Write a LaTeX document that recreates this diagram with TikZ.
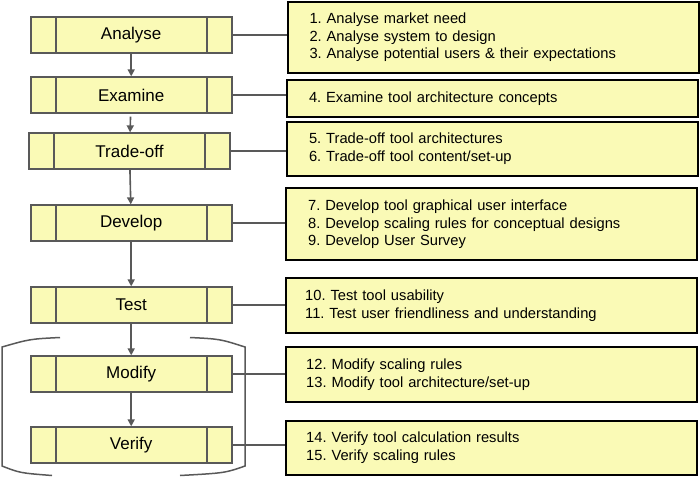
\documentclass[tikz,border=0pt]{standalone}
\usepackage{fontspec}
\setmainfont{Liberation Sans}
\usetikzlibrary{arrows.meta}
\definecolor{boxyellow}{RGB}{250,250,182}
\definecolor{linegray}{RGB}{89,89,89}
\frenchspacing
\begin{document}
\begin{tikzpicture}[x=1pt,y=-1pt]
\useasboundingbox (0,0) rectangle (700,476);
\begin{scope}[every node/.style={draw=linegray,line width=1.8pt,fill=boxyellow,
              minimum width=201pt,minimum height=35.5pt,inner sep=0pt,
              font=\fontsize{17}{20}\selectfont,
              path picture={\draw[linegray,line width=1.8pt]
                ([xshift=25pt]path picture bounding box.north west) -- ([xshift=25pt]path picture bounding box.south west)
                ([xshift=-25pt]path picture bounding box.north east) -- ([xshift=-25pt]path picture bounding box.south east);}}]
    \node (ana) at (131.2,35) {Analyse};
    \node (exa) at (131.2,95) {Examine};
    \node (tra) at (129.5,151) {Trade-off};
    \node (dev) at (131.2,223) {Develop};
    \node (tst) at (131.2,305) {Test};
    \node (mod) at (131.2,374) {Modify};
    \node (ver) at (131.2,445) {Verify};
\end{scope}

\begin{scope}[every node/.style={draw=black,line width=2pt,fill=boxyellow,
              text width=367pt,inner xsep=22pt,inner ysep=0pt,align=left,
              font=\fontsize{14.7}{17.6}\selectfont}]
    \node[minimum height=71pt] (anaList) at (493,37.5) {1. Analyse market need\\2. Analyse system to design\\3. Analyse potential users \& their expectations};
    \node[minimum height=36.7pt] (exaList) at (492.5,98.3) {4. Examine tool architecture concepts};
    \node[minimum height=54.3pt] (traList) at (492.5,148.8) {5. Trade-off tool architectures\\6. Trade-off tool content/set-up};
    \node[minimum height=71.7pt] (devList) at (491.7,224.2) {7. Develop tool graphical user interface\\8. Develop scaling rules for conceptual designs\\9. Develop User Survey};
    \node[minimum height=55pt,inner xsep=19pt,text width=373pt] (tstList) at (491.7,305.8) {10. Test tool usability\\11. Test user friendliness and understanding};
    \node[minimum height=54.4pt,inner xsep=20pt,text width=371pt] (modList) at (491.7,374.5) {12. Modify scaling rules\\13. Modify tool architecture/set-up};
    \node[minimum height=54.3pt,inner xsep=20pt,text width=371pt] (verList) at (491.7,447.8) {14. Verify tool calculation results\\15. Verify scaling rules};
\end{scope}

\begin{scope}[every edge/.style={draw=linegray,line width=1.6pt}]
    \path [-{Triangle[length=7pt,width=7pt]}] (ana) edge (exa);
    \path [-{Triangle[length=7pt,width=7pt]}] (exa) edge[shorten <=3pt] (tra);
    \path [-{Triangle[length=7pt,width=7pt]}] (tra) edge (dev);
    \path [-{Triangle[length=7pt,width=7pt]}] (dev) edge (tst);
    \path [-{Triangle[length=7pt,width=7pt]}] (tst) edge (mod);
    \path [-{Triangle[length=7pt,width=7pt]}] (mod) edge (ver);
    \path [-] (ana.east) edge (ana.east -| anaList.west);
    \path [-] (exa.east) edge (exa.east -| exaList.west);
    \path [-] (tra.east) edge (tra.east -| traList.west);
    \path [-] (dev.east) edge (dev.east -| devList.west);
    \path [-] (tst.east) edge (tst.east -| tstList.west);
    \path [-] (mod.east) edge (mod.east -| modList.west);
    \path [-] (ver.east) edge (ver.east -| verList.west);
\end{scope}

\draw[linegray,line width=1.5pt] (60,337.5) .. controls (30,339) .. (2,347) -- (2,466) .. controls (20,473) .. (52,475.5);
\draw[linegray,line width=1.5pt] (190,337.5) .. controls (220,339) .. (245,347) -- (245,466) .. controls (225,473) .. (180,475.5);
\end{tikzpicture}
\end{document}
